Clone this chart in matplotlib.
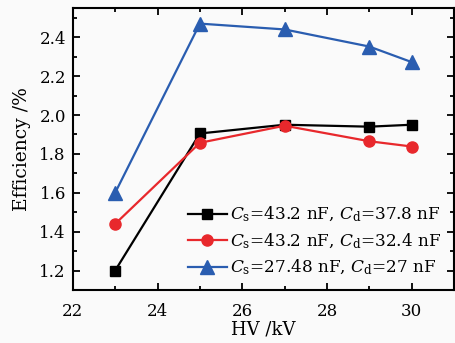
import matplotlib
matplotlib.use("Agg")
import matplotlib.pyplot as plt
from matplotlib.ticker import MultipleLocator

hv = [23, 25, 27, 29, 30]
eff_a = [1.20, 1.905, 1.95, 1.94, 1.95]
eff_b = [1.44, 1.857, 1.945, 1.865, 1.838]
eff_c = [1.60, 2.47, 2.44, 2.352, 2.272]
labels = [r"$C_{\rm s}$=43.2 nF, $C_{\rm d}$=37.8 nF",
          r"$C_{\rm s}$=43.2 nF, $C_{\rm d}$=32.4 nF",
          r"$C_{\rm s}$=27.48 nF, $C_{\rm d}$=27 nF"]

plt.rcParams['font.family'] = 'DejaVu Serif'
plt.rcParams['mathtext.fontset'] = 'custom'
plt.rcParams['mathtext.rm'] = 'DejaVu Serif'
plt.rcParams['mathtext.it'] = 'DejaVu Serif:italic'
plt.rcParams['font.size'] = 12

fig = plt.figure(figsize=(4.55, 3.43), dpi=100, facecolor='#fafafa')
ax = fig.add_axes([0.160, 0.1545, 0.838, 0.822])
ax.set_facecolor('#fafafa')

ax.plot(hv, eff_a, color='black', marker='s', ms=7, lw=1.6, label=labels[0])
ax.plot(hv, eff_b, color='#e8282c', marker='o', ms=8, lw=1.6, label=labels[1])
ax.plot(hv, eff_c, color='#2a5db0', marker='^', ms=10, lw=1.6, label=labels[2])

ax.set_xlim(22, 31)
ax.set_ylim(1.1, 2.55)
ax.xaxis.set_major_locator(MultipleLocator(2))
ax.xaxis.set_minor_locator(MultipleLocator(1))
ax.yaxis.set_major_locator(MultipleLocator(0.2))
ax.yaxis.set_minor_locator(MultipleLocator(0.1))
ax.yaxis.set_major_formatter(matplotlib.ticker.FormatStrFormatter('%.1f'))
ax.tick_params(which='both', direction='in', top=True, right=True, width=1.3)
ax.tick_params(which='major', length=5)
ax.tick_params(which='minor', length=3)
ax.tick_params(axis='x', which='major', pad=9)
ax.tick_params(axis='y', which='major', pad=5)
for s in ax.spines.values():
    s.set_linewidth(1.5)

ax.set_xlabel("HV /kV", labelpad=1, fontsize=13)
ax.set_ylabel("Efficiency /%", labelpad=6, fontsize=13.5)

ax.legend(loc='lower right', frameon=False, handlelength=2.3, handletextpad=0.2,
          labelspacing=0.42, borderaxespad=0.35, fontsize=12.2)

fig.savefig("out.png", dpi=100, facecolor=fig.get_facecolor())
